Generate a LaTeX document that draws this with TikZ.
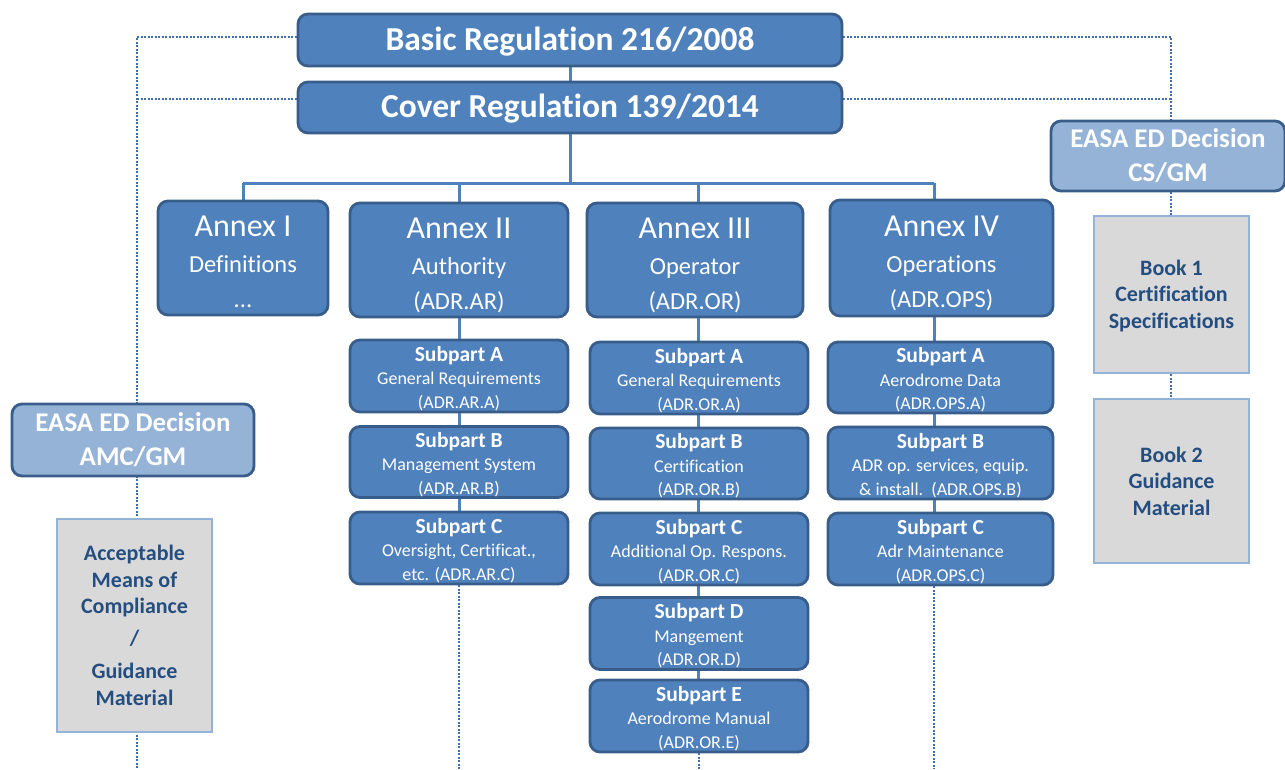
\documentclass[tikz,border=0pt]{standalone}
\usepackage{fontspec}
\setmainfont{Carlito}[Ligatures=NoCommon]
\usetikzlibrary{calc}
\pgfdeclarelayer{bg}
\pgfsetlayers{bg,main}
\definecolor{boxblue}{HTML}{4F81BD}
\definecolor{boxedge}{HTML}{385D8A}
\definecolor{lightblue}{HTML}{95B3D7}
\definecolor{greyfill}{HTML}{D9D9D9}
\definecolor{greytext}{HTML}{254E80}
\definecolor{dotcol}{HTML}{426FA8}
\tikzset{
  bluebox/.style={draw=boxedge, fill=boxblue, line width=2.8pt, rounded corners=10pt,
    text=white, align=center, inner sep=0pt},
  easabox/.style={draw=boxedge, fill=lightblue, line width=2.8pt, rounded corners=10pt,
    text=white, align=center, inner sep=0pt,
    font=\fontsize{27}{34}\selectfont\bfseries},
  greybox/.style={draw=lightblue, fill=greyfill, line width=1.8pt, text=greytext,
    align=center, inner sep=0pt, font=\fontsize{22}{26.5}\selectfont\bfseries},
  topbox/.style={bluebox, font=\fontsize{33.5}{36}\selectfont\bfseries},
  annexbox/.style={bluebox, font=\fontsize{24.5}{35.5}\selectfont},
  subbox/.style={bluebox, font=\fontsize{18}{23.5}\selectfont},
  link/.style={draw=boxblue, line width=3pt},
  dotlink/.style={draw=dotcol, line width=2.8pt, dash pattern=on 1.9pt off 1.6pt},
}
% lower the text block by #1 without changing the box the node is built around
\newcommand{\lowtext}[2]{\raisebox{-#1}[\height][\depth]{\begin{tabular}{@{}c@{}}#2\end{tabular}}}
\newcommand{\annexhead}[1]{{\fontsize{32}{35.5}\selectfont #1}}
\newcommand{\subhead}[1]{{\fontsize{21.5}{23.5}\selectfont\bfseries #1}}
\begin{document}
\begin{tikzpicture}[x=1pt,y=-1pt]
\useasboundingbox (0,0) rectangle (1285,769);
% top
\node[topbox, minimum width=544, minimum height=52] (basic) at (570,40) {\lowtext{3pt}{Basic Regulation 216/2008}};
\node[topbox, minimum width=544, minimum height=51] (cover) at (570,107.5) {\lowtext{3pt}{Cover Regulation 139/2014}};
% annexes
\node[annexbox, minimum width=170, minimum height=114] (annex1) at (243,258)
  {\lowtext{7pt}{\annexhead{Annex I}\\Definitions\\...}};
\node[annexbox, minimum width=218, minimum height=114] (annex2) at (459,260)
  {\lowtext{7pt}{\annexhead{Annex II}\\Authority\\(ADR.AR)}};
\node[annexbox, minimum width=216, minimum height=114] (annex3) at (695,260)
  {\lowtext{7pt}{\annexhead{Annex III}\\Operator\\(ADR.OR)}};
\node[annexbox, minimum width=223, minimum height=116] (annex4) at (941.5,258)
  {\lowtext{7pt}{\annexhead{Annex IV}\\Operations\\(ADR.OPS)}};
% subparts annex II
\node[subbox, minimum width=218, minimum height=72] (s2a) at (459,376) {\lowtext{4pt}{\subhead{Subpart A}\\General Requirements\\(ADR.AR.A)}};
\node[subbox, minimum width=218, minimum height=71] (s2b) at (459,462) {\lowtext{4pt}{\subhead{Subpart B}\\Management System\\(ADR.AR.B)}};
\node[subbox, minimum width=218, minimum height=72] (s2c) at (459,548) {\lowtext{4pt}{\subhead{Subpart C}\\Oversight, Certificat.,\\etc. (ADR.AR.C)}};
% subparts annex III
\node[subbox, minimum width=218, minimum height=72] (s3a) at (699,378) {\lowtext{4pt}{\subhead{Subpart A}\\General Requirements\\(ADR.OR.A)}};
\node[subbox, minimum width=218, minimum height=71] (s3b) at (699,463.5) {\lowtext{4pt}{\subhead{Subpart B}\\Certification\\(ADR.OR.B)}};
\node[subbox, minimum width=218, minimum height=72] (s3c) at (699,549) {\lowtext{4pt}{\subhead{Subpart C}\\Additional Op. Respons.\\(ADR.OR.C)}};
\node[subbox, minimum width=218, minimum height=72] (s3d) at (699,633.5) {\lowtext{4pt}{\subhead{Subpart D}\\Mangement\\(ADR.OR.D)}};
\node[subbox, minimum width=218, minimum height=72] (s3e) at (699,716) {\lowtext{4pt}{\subhead{Subpart E}\\Aerodrome Manual\\(ADR.OR.E)}};
% subparts annex IV
\node[subbox, minimum width=225, minimum height=71] (s4a) at (940.5,377.5) {\lowtext{4pt}{\subhead{Subpart A}\\Aerodrome Data\\(ADR.OPS.A)}};
\node[subbox, minimum width=225, minimum height=72] (s4b) at (940.5,463) {\lowtext{4pt}{\subhead{Subpart B}\\ADR op. services, equip.\\\& install.~~(ADR.OPS.B)}};
\node[subbox, minimum width=225, minimum height=72] (s4c) at (940.5,549) {\lowtext{4pt}{\subhead{Subpart C}\\Adr Maintenance\\(ADR.OPS.C)}};
% left EASA
\node[easabox, minimum width=242, minimum height=72] (easaL) at (133,440) {EASA ED Decision\\AMC/GM};
\node[greybox, minimum width=155, minimum height=213] (amc) at (134.5,625.5)
  {Acceptable\\Means of\\Compliance\\[5pt]/\\[7pt]Guidance\\Material};
% right EASA
\node[easabox, minimum width=234, minimum height=70] (easaR) at (1168,156) {EASA ED Decision\\CS/GM};
\node[greybox, minimum width=155, minimum height=157] (book1) at (1171.5,294.5) {\lowtext{2pt}{Book 1\\Certification\\Specifications}};
\node[greybox, minimum width=155, minimum height=164] (book2) at (1171.5,481) {Book 2\\Guidance\\Material};
% helper coordinates
\coordinate (bus1) at (243,183);
\coordinate (bus4) at (934,183);
\coordinate (c3) at (698,183);
\coordinate (tl) at (137,37);
\coordinate (ml) at (137,99);
\coordinate (bl) at (137,769);
\coordinate (tr) at (1171,37);
\coordinate (mr) at (1171,99);
\coordinate (bot) at (0,769);
\begin{pgfonlayer}{bg}
  \draw[link] (basic.center) -- (cover.center) -- (cover.center |- bus1);
  \draw[link] (bus1) -- (bus4);
  \draw[link] (bus1) -- (annex1.center);
  \draw[link] (annex2.north |- bus1) -- (s2c.center);
  \draw[link] (c3) -- (c3 |- s3e.center);
  \draw[link] (bus4) -- (bus4 |- s4c.center);
  % dotted
  \draw[dotlink] (basic.west |- tl) -- (tl) -- (bl);
  \draw[dotlink] (cover.west |- ml) -- (ml);
  \draw[dotlink] (basic.east |- tr) -- (tr) -- (tr |- book2.north);
  \draw[dotlink] (cover.east |- mr) -- (mr);
  \draw[dotlink] (s2c.south) -- (s2c.south |- bot);
  \draw[dotlink] (s3e.south) -- (s3e.south |- bot);
  \draw[dotlink] (s4c.south -| bus4) -- (bus4 |- bot);
\end{pgfonlayer}
\end{tikzpicture}
\end{document}
